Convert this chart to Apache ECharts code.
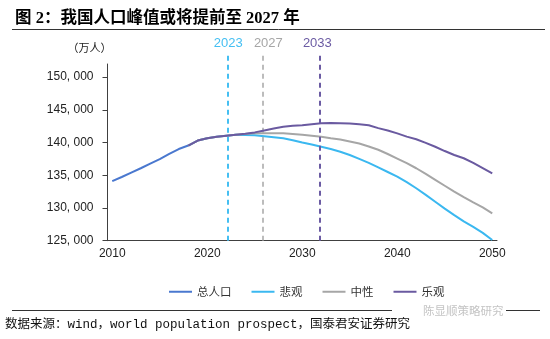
<!DOCTYPE html>
<html><head><meta charset="utf-8">
<script src="https://cdn.jsdelivr.net/npm/echarts@6/dist/echarts.min.js"></script>
<style>html,body{margin:0;padding:0;background:#fff}#c{width:550px;height:339px}</style>
</head><body><div id="c"></div>
<script>
const years = ['2010','2011','2012','2013','2014','2015','2016','2017','2018','2019','2020','2021','2022','2023','2024','2025','2026','2027','2028','2029','2030','2031','2032','2033','2034','2035','2036','2037','2038','2039','2040','2041','2042','2043','2044','2045','2046','2047','2048','2049','2050'];
const total = [134091,134735,135404,136072,136782,137462,138271,139008,139538,null,null,null,null,null,null,null,null,null,null,null,null,null,null,null,null,null,null,null,null,null,null,null,null,null,null,null,null,null,null,null,null];
const pessimistic = [null,null,null,null,null,null,null,null,139538,140300,140650,140900,141050,141200,141150,141100,140950,140800,140650,140350,140000,139700,139350,139000,138600,138100,137500,136900,136200,135500,134800,133950,133010,132000,130950,129900,128900,127950,127100,126200,125100];
const neutral = [null,null,null,null,null,null,null,null,139538,140300,140650,140900,141050,141200,141300,141400,141430,141420,141400,141300,141200,141050,140900,140650,140450,140150,139850,139400,138900,138250,137550,136850,136070,135200,134300,133400,132500,131650,130850,130100,129190];
const optimistic = [null,null,null,null,null,null,null,null,139538,140300,140650,140900,141050,141200,141350,141550,141850,142150,142400,142550,142650,142800,142950,142980,142960,142900,142780,142650,142200,141850,141400,140900,140500,139950,139350,138700,138100,137600,136900,136100,135300];
const yTicks = [125000,130000,135000,140000,145000,150000];
const peakLabels = ['2023','2027','2033'];
const peakPos = [2022.2, 2025.8, 2031.8];
const peakColors = ['#45bff2','#a6a6a6','#6b5ba3'];
const peakWidths = [2, 1.5, 2];
const peakLabelOffsets = [0, 6, -2];
const seriesNames = ['总人口','悲观','中性','乐观'];
const seriesColors = ['#4a78cf','#3bb8f0','#a6a6a6','#6a5aa0'];

const fmt = v => String(v).replace(/\B(?=(\d{3})+(?!\d))/g, ', ');
const chart = echarts.init(document.getElementById('c'));
const axisColor = '#404040';
const sans = 'Liberation Sans, Noto Sans CJK SC, sans-serif';
chart.setOption({
  animation: false,
  backgroundColor: '#fff',
  title: {
    text: '图 2：我国人口峰值或将提前至 2027 年',
    left: 10, top: 5,
    textStyle: {fontSize: 16.5, fontWeight: 'bold', color: '#000', fontFamily: 'Liberation Serif, Noto Sans CJK SC, serif'}
  },
  grid: [
    {left: 107.5, right: 53, top: 64, bottom: 98.3, containLabel: false},
    {left: 107.5, right: 53, top: 54.8, bottom: 98.3, containLabel: false}
  ],
  legend: {
    data: seriesNames, left: 164, top: 281, icon: 'rect', itemWidth: 23, itemHeight: 2, itemGap: 20,
    textStyle: {fontSize: 11.5, color: '#333', fontFamily: 'Noto Sans CJK SC'}
  },
  xAxis: [{
    type: 'category', data: years, boundaryGap: true,
    axisLine: {lineStyle: {color: axisColor, width: 1}},
    axisTick: {interval: 9, length: 4, lineStyle: {color: axisColor}},
    axisLabel: {interval: 9, fontSize: 12, color: '#222', margin: 7, fontFamily: sans},
    splitLine: {show: false}
  }, {
    type: 'value', gridIndex: 1, min: 2009.5, max: 2050.5, show: false
  }],
  yAxis: [{
    type: 'value', min: 125000, max: 152000,
    name: '（万人）', nameLocation: 'end', nameGap: 11,
    nameTextStyle: {align: 'right', fontSize: 11, color: '#222', fontFamily: 'Noto Sans CJK SC', padding: [0, -4, 0, 0]},
    axisLine: {show: true, lineStyle: {color: axisColor, width: 1}},
    axisTick: {show: true, length: 5, customValues: yTicks, lineStyle: {color: axisColor}},
    axisLabel: {customValues: yTicks, formatter: fmt, fontSize: 12, color: '#222', margin: 14, fontFamily: sans},
    splitLine: {show: false}
  }, {
    type: 'value', gridIndex: 1, min: 125000, max: 153400, show: false
  }],
  series: [
    ...[total, pessimistic, neutral, optimistic].map((d, i) => ({
      name: seriesNames[i], type: 'line', data: d, symbol: 'none', connectNulls: false,
      lineStyle: {color: seriesColors[i], width: 2}, itemStyle: {color: seriesColors[i]}, z: 2 + i
    })),
    {
      type: 'line', xAxisIndex: 1, yAxisIndex: 1, data: [[2009.5, 125000]], symbol: 'none', silent: true,
      lineStyle: {opacity: 0}, z: 1,
      markLine: {
        symbol: ['none', 'none'], silent: true, animation: false,
        data: peakPos.map((p, i) => [
          {coord: [p, 125000],
           lineStyle: {color: peakColors[i], type: [5, 4], width: peakWidths[i]},
           label: {show: true, position: 'end', formatter: peakLabels[i], color: peakColors[i], fontSize: 13, fontFamily: sans, offset: [peakLabelOffsets[i], 0]}},
          {coord: [p, 153400]}
        ])
      }
    }
  ],
  graphic: [
    {type: 'line', shape: {x1: 12, y1: 29.5, x2: 545, y2: 29.5}, style: {stroke: '#333', lineWidth: 1}},
    {type: 'line', shape: {x1: 12, y1: 310.5, x2: 392, y2: 310.5}, style: {stroke: '#333', lineWidth: 1}},
    {type: 'line', shape: {x1: 506, y1: 310.5, x2: 540, y2: 310.5}, style: {stroke: '#333', lineWidth: 1}},
    {type: 'text', left: 423, top: 305, style: {text: '陈显顺策略研究', fill: '#c4c4c4', font: '11.5px Noto Sans CJK SC'}},
    {type: 'text', left: 5, top: 318, style: {text: '数据来源：wind，world population prospect，国泰君安证券研究', fill: '#111', font: '12.5px Liberation Mono, Noto Sans CJK SC'}}
  ]
});
</script></body></html>
